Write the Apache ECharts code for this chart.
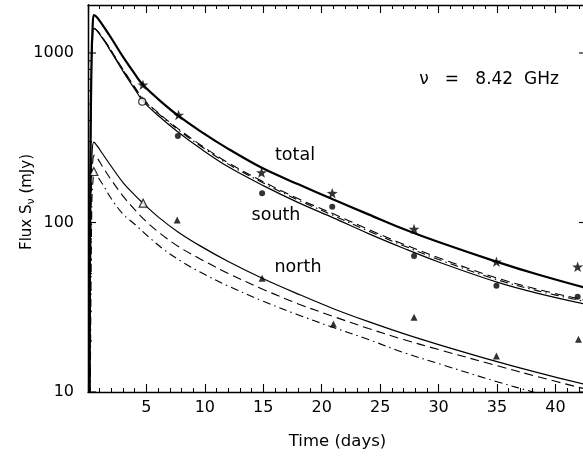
<!DOCTYPE html>
<html><head><meta charset="utf-8">
<script src="https://cdn.jsdelivr.net/npm/echarts@6/dist/echarts.min.js"></script>
<style>html,body{margin:0;padding:0;background:#fff}#c{width:583px;height:458px}</style>
</head><body><div id="c"></div>
<script>
// ---- data ----
const xTickLabels = [5, 10, 15, 20, 25, 30, 35, 40];
const yTickLabels = [10, 100, 1000];
const yMinorTicks = [20,30,40,50,60,70,80,90,200,300,400,500,600,700,800,900];

const totalModel = [[0.12,6],[0.2,200],[0.3,900],[0.4,1450],[0.5,1675],[0.7,1641],[1.0,1549],[1.5,1380],[2.0,1222],[3.0,948],[4.0,753],[4.7,649],[6.0,535],[7.7,428],[9.6,346],[12,272],[15,208],[18,168],[21,136.5],[24,111.7],[27,91.6],[30,76.7],[35,58.6],[38.5,49.3],[42.7,40.9]];
const southSolid = [[0.12,6],[0.2,180],[0.3,800],[0.4,1250],[0.5,1400],[0.7,1370],[1.0,1290],[1.5,1150],[2.0,1010],[3.0,780],[4.0,612],[4.7,520],[6.0,428],[7.7,342],[9.6,274],[12,213],[15,165],[18,131],[21,106.5],[24,86],[27,70.5],[30,58.5],[35,44.5],[38.5,38.2],[42.7,32.8]];
const southDashed = [[0.5,1400],[0.7,1375],[1.0,1300],[1.5,1165],[2.0,1030],[3.0,800],[4.0,630],[4.7,538],[6.0,445],[7.7,358],[9.6,288],[12,225],[15,174],[18,138],[21,112.5],[24,91],[27,74.5],[30,62],[35,47],[38.5,40.3],[42.7,34.6]];
const southDashDot = [[0.5,1395],[0.7,1372],[1.0,1298],[1.5,1160],[2.0,1022],[3.0,794],[4.0,625],[4.7,533],[6.0,440],[7.7,353],[9.6,284],[12,221],[15,171],[18,135.5],[21,110],[24,89],[27,73],[30,60.5],[35,46],[38.5,39.5],[42.7,34]];
const northSolid = [[0.12,6],[0.22,120],[0.35,260],[0.5,298],[0.8,282],[1.2,257],[2.0,214],[3.0,172],[4.0,145],[4.7,130],[6.0,108],[7.7,88],[9.6,72.8],[12,58.9],[15,46.6],[18,37.8],[21,31],[24,26],[27,22.1],[30,19.05],[35,15.1],[38.5,13.0],[42.7,11.0]];
const northDashed = [[0.15,6],[0.28,150],[0.42,235],[0.58,250],[0.8,240],[1.2,216],[2.0,178],[3.0,143],[4.0,119],[5.0,101],[6.2,86],[7.7,72.4],[9.6,61],[12,50.1],[15,40.3],[18,33.1],[21,27.9],[24,23.7],[27,20.4],[30,17.8],[35,14.3],[38.5,12.3],[42.7,10.35]];
const northDashDot = [[0.18,6],[0.32,120],[0.45,185],[0.6,195],[0.9,183],[1.3,166],[2.0,138],[3.0,112],[4.0,97.7],[5.35,80.4],[6.5,69.2],[8.0,58.9],[9.6,51],[12,42.2],[15,34.3],[18,28.5],[21,24],[24,20.4],[27,17.1],[30,14.7],[35,11.5],[38.5,9.8],[42.7,8.0]];

const totalObs = [[4.7,650],[7.75,431],[14.85,197],[20.9,149],[27.9,91.6],[34.95,58.7],[41.9,54.8]];
const southObs = [[7.69,324],[14.9,149],[20.9,124],[27.9,63.4],[34.95,42.4],[41.9,36.5]];
const southObsOpen = [[4.64,516]];
const northObs = [[7.63,103.6],[14.9,46.9],[21,25.2],[27.9,27.6],[34.95,16.3],[41.97,20.5]];
const northObsOpen = [[0.5,200],[4.72,130]];

// ---- chart ----
const FONT = 'DejaVu Sans';
const chart = echarts.init(document.getElementById('c'), null, {renderer:'canvas'});
const star = 'path://M0,-10 L2.35,-3.24 L9.51,-3.09 L3.8,1.24 L5.88,8.09 L0,4 L-5.88,8.09 L-3.8,1.24 L-9.51,-3.09 L-2.35,-3.24 Z';
const axLine = {show:true, lineStyle:{color:'#000', width:1.3}};
function xAx(pos, labels){
  return {type:'value', position:pos, min:0, max:42.7, interval:5,
    axisLine:axLine,
    axisTick:{show:true, inside:true, length:8, lineStyle:{color:'#000', width:1.1}},
    minorTick:{show:true, splitNumber:5, length:4, lineStyle:{color:'#000', width:1}},
    splitLine:{show:false}, minorSplitLine:{show:false},
    axisLabel:{show:labels, color:'#000', fontFamily:FONT, fontSize:16, margin:8,
      formatter:v => xTickLabels.indexOf(v) >= 0 ? String(v) : ''},
    name: labels ? 'Time (days)' : '', nameLocation:'middle', nameGap:41,
    nameTextStyle:{color:'#000', fontFamily:FONT, fontSize:16.5}
  };
}
function yAx(pos, labels){
  return {type:'log', logBase:10, position:pos, min:10, max:1920,
    axisLine:axLine,
    axisTick:{show:false},
    splitLine:{show:false},
    axisLabel:{show:labels, color:'#000', fontFamily:FONT, fontSize:16, margin:14,
      formatter:v => yTickLabels.indexOf(Math.round(v)) >= 0 ? String(Math.round(v)) : ''}
  };
}
function line(data, width, type, z){
  return {type:'line', data:data, xAxisIndex:0, yAxisIndex:0, showSymbol:false, symbol:'none',
    smooth:0.35, clip:true, z:z||2, silent:true,
    lineStyle:{color:'#000', width:width, type:type}};
}
function pts(data, symbol, size, open){
  return {type:'scatter', data:data, xAxisIndex:0, yAxisIndex:0, symbol:symbol, symbolSize:size,
    symbolKeepAspect:true, z:5, silent:true,
    itemStyle: open ? {color:'#fff', borderColor:'#000', borderWidth:1.2} : {color:'#000'}};
}
// y ticks (major + minor, both sides) drawn through the log axis scale
function yTicks(values, len){
  return {type:'custom', xAxisIndex:0, yAxisIndex:0, silent:true, z:6, clip:false,
    data: values.map(v => [0, v]),
    renderItem: function(params, api){
      const cs = params.coordSys;
      const p = api.coord([0, api.value(1)]);
      const st = {stroke:'#000', lineWidth:1.1};
      return {type:'group', children:[
        {type:'line', shape:{x1:cs.x, y1:p[1], x2:cs.x+len, y2:p[1]}, style:st},
        {type:'line', shape:{x1:cs.x+cs.width, y1:p[1], x2:cs.x+cs.width-len, y2:p[1]}, style:st}
      ]};
    }};
}
const lbl = (txt, x, y, size) => ({type:'text', x:x, y:y,
  style:{text:txt, fill:'#000', font:size + 'px "DejaVu Sans"', textAlign:'center', textVerticalAlign:'middle'}});
const option = {
  animation:false,
  backgroundColor:'#fff',
  grid:{left:88, top:5, width:499, height:387, containLabel:false, outerBoundsMode:'none'},
  xAxis:[xAx('bottom', true), xAx('top', false)],
  yAxis:[yAx('left', true), yAx('right', false)],
  series:[
    line(totalModel, 2.2, 'solid', 3),
    line(southSolid, 1.2, 'solid'),
    line(southDashed, 1.1, [9,5]),
    line(southDashDot, 1.1, [8,4,1.5,4]),
    line(northSolid, 1.2, 'solid'),
    line(northDashed, 1.1, [9,5]),
    line(northDashDot, 1.1, [8,4,1.5,4]),
    pts(totalObs, star, 11),
    pts(southObs, 'circle', 6),
    pts(southObsOpen, 'circle', 7, true),
    pts(northObs, 'triangle', 7),
    pts(northObsOpen, 'triangle', 8, true),
    yTicks(yTickLabels, 8),
    yTicks(yMinorTicks, 4)
  ],
  graphic:[
    lbl('total', 295, 155, 17.5),
    lbl('south', 276, 215, 17.5),
    lbl('north', 298, 267, 17.5),
    lbl('\u03bd   =   8.42  GHz', 489, 80, 17),
    {type:'text', x:18, y:250, rotation:Math.PI/2,
      style:{text:'Flux S{sub|\u03bd} (mJy)', fill:'#000', font:'15px "DejaVu Sans"',
        rich:{sub:{fontSize:11, fontFamily:FONT, fill:'#000', padding:[8,0,0,0]}}}}
  ]
};
chart.setOption(option);
</script></body></html>
